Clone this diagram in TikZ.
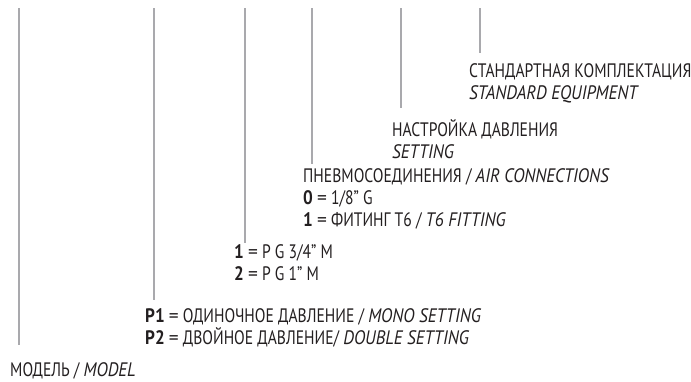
\documentclass[tikz,border=0pt]{standalone}
\usepackage{fontspec}
\setmainfont[FakeStretch=0.8,ItalicFeatures={FakeStretch=0.88},BoldFeatures={FakeStretch=0.88}]{PT Sans}
\definecolor{rulegray}{HTML}{A9A9AD}
\definecolor{ink}{HTML}{231F20}

\begin{document}
\begin{tikzpicture}[x=1pt,y=-1pt,
  rule/.style={draw=rulegray,line width=2pt},
  txt/.style={anchor=base west,inner sep=0pt,text=ink,font=\fontsize{19.5}{22}\selectfont}]
\useasboundingbox (0,0) rectangle (691,381);
\def\eq{\ \scalebox{1.25}[1]{=}\ }

% top ends of the rules
\coordinate (t1) at (19,8);
\coordinate (t2) at (154,8);
\coordinate (t3) at (245,8);
\coordinate (t4) at (312,8);
\coordinate (t5) at (401,8);
\coordinate (t6) at (480,8);

% lower ends
\coordinate (b1) at (19,345);
\coordinate (b2) at (154,300);
\coordinate (b3) at (245,243);
\coordinate (b4) at (312,164);
\coordinate (b5) at (401,108);
\coordinate (b6) at (480,53);

\draw[rule] (t1) -- (b1);
\draw[rule] (t2) -- (b2);
\draw[rule] (t3) -- (b3);
\draw[rule] (t4) -- (b4);
\draw[rule] (t5) -- (b5);
\draw[rule] (t6) -- (b6);

\node[txt] (equip) at (469,77) {СТАНДАРТНАЯ КОМПЛЕКТАЦИЯ};
\node[txt] (equipen) at (469,99) {\itshape STANDARD EQUIPMENT};

\node[txt] (set) at (392,136) {НАСТРОЙКА ДАВЛЕНИЯ};
\node[txt] (seten) at (392,158) {\itshape SETTING};

\node[txt] (air) at (303,182) {ПНЕВМОСОЕДИНЕНИЯ / \textit{AIR CONNECTIONS}};
\node[txt] (air0) at (303,204) {\textbf{0}\eq 1/8” G};
\node[txt] (air1) at (303,226) {\textbf{1}\eq ФИТИНГ T6 / \textit{T6 FITTING}};

\node[txt] (pg1) at (234,258) {\textbf{1}\eq P G 3/4” M};
\node[txt] (pg2) at (234,280) {\textbf{2}\eq P G 1” M};

\node[txt] (p1) at (145,322) {\textbf{P1}\eq ОДИНОЧНОЕ ДАВЛЕНИЕ / \textit{MONO SETTING}};
\node[txt] (p2) at (145,344) {\textbf{P2}\eq ДВОЙНОЕ ДАВЛЕНИЕ/ \textit{DOUBLE SETTING}};

\node[txt] (model) at (10,376) {МОДЕЛЬ / \textit{MODEL}};
\end{tikzpicture}
\end{document}
